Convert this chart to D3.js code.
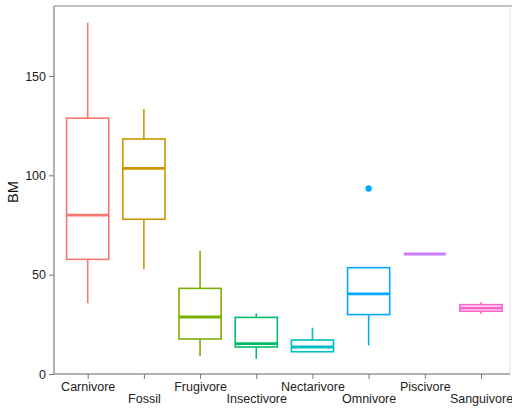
<!DOCTYPE html>
<html>
<head>
<meta charset="utf-8">
<script src="https://cdn.jsdelivr.net/npm/d3@7"></script>
<style>
  body { margin: 0; background: #fff; }
  text { font-family: "Liberation Sans", Arial, sans-serif; }
</style>
</head>
<body>
<script>
// diet categories and their box stats
const diets = ["Carnivore", "Fossil", "Frugivore", "Insectivore", "Nectarivore", "Omnivore", "Piscivore", "Sanguivore"];
const lowWhisker = [35.6, 52.8, 9.1, 7.7, 11.0, 14.4, 60.4, 30.3];
const q1 = [57.7, 77.9, 17.6, 13.6, 11.2, 29.9, 60.4, 31.6];
const medians = [80.0, 103.5, 28.7, 15.3, 13.6, 40.3, 60.4, 33.2];
const q3 = [128.8, 118.3, 43.1, 28.5, 17.1, 53.5, 60.4, 34.9];
const highWhisker = [176.8, 133.4, 61.9, 30.5, 23.3, 53.5, 60.4, 36.1];
const outliers = [{ diet: "Omnivore", value: 93.4 }];
const colors = ["#F8766D", "#CD9600", "#7CAE00", "#00BE67", "#00BFC4", "#00A9FF", "#C77CFF", "#FF61CC"];
const yTicks = [0, 50, 100, 150];

const W = 512, H = 408;
const panel = { left: 54, top: 6, right: 510, bottom: 374 };

const svg = d3.select("body").append("svg")
  .attr("width", W)
  .attr("height", H);

// scales
const x = d3.scalePoint().domain(diets).range([87.7, 481]);
const step = x.step();
const boxW = step * 0.75;
const y = d3.scaleLinear().domain([0, 150]).range([panel.bottom, 76]);

const data = diets.map((d, i) => ({
  diet: d, lo: lowWhisker[i], q1: q1[i], med: medians[i], q3: q3[i], hi: highWhisker[i], color: colors[i]
}));

// panel border: top grey, right very faint
svg.append("line")
  .attr("x1", panel.left).attr("x2", W)
  .attr("y1", panel.top).attr("y2", panel.top)
  .attr("stroke", "#aaa").attr("stroke-width", 1.5);
svg.append("line")
  .attr("x1", panel.right).attr("x2", panel.right)
  .attr("y1", panel.top).attr("y2", panel.bottom)
  .attr("stroke", "#e4e4e4").attr("stroke-width", 1);

// axes
const yAxis = d3.axisLeft(y).tickValues(yTicks).tickSize(5).tickPadding(3);
const gy = svg.append("g").attr("transform", `translate(${panel.left},0)`).call(yAxis);
gy.select(".domain").attr("stroke", "#999").attr("stroke-width", 1.5)
  .attr("d", `M0,${panel.top}V${panel.bottom}`);
gy.selectAll(".tick line").attr("stroke", "#777");
gy.selectAll(".tick text").attr("font-size", 12.5).attr("fill", "#222");

const xAxis = d3.axisBottom(x).tickSize(5).tickPadding(3);
const gx = svg.append("g").attr("transform", `translate(0,${panel.bottom})`).call(xAxis);
gx.select(".domain").attr("stroke", "#999").attr("stroke-width", 1.5)
  .attr("d", `M${panel.left},0H${panel.right}`);
gx.selectAll(".tick line").attr("stroke", "#777");
gx.selectAll(".tick text")
  .attr("font-size", 12.5).attr("fill", "#222")
  .attr("dy", (d, i) => i % 2 === 0 ? "0.75em" : "1.65em");

// y title
svg.append("text")
  .attr("transform", `translate(18,${(panel.top + panel.bottom) / 2 + 2}) rotate(-90)`)
  .attr("text-anchor", "middle")
  .attr("font-size", 14.5)
  .attr("fill", "#111")
  .text("BM");

// boxes
const g = svg.append("g");
const box = g.selectAll("g.box").data(data).join("g").attr("class", "box");

box.append("line")
  .attr("x1", d => x(d.diet)).attr("x2", d => x(d.diet))
  .attr("y1", d => y(d.hi)).attr("y2", d => y(d.q3))
  .attr("stroke", d => d.color).attr("stroke-width", 1.6);
box.append("line")
  .attr("x1", d => x(d.diet)).attr("x2", d => x(d.diet))
  .attr("y1", d => y(d.q1)).attr("y2", d => y(d.lo))
  .attr("stroke", d => d.color).attr("stroke-width", 1.6);
box.append("rect")
  .attr("x", d => x(d.diet) - boxW / 2)
  .attr("width", boxW)
  .attr("y", d => y(d.q3))
  .attr("height", d => y(d.q1) - y(d.q3))
  .attr("fill", "#fff")
  .attr("stroke", d => d.color).attr("stroke-width", 1.6);
box.append("line")
  .attr("x1", d => x(d.diet) - boxW / 2).attr("x2", d => x(d.diet) + boxW / 2)
  .attr("y1", d => y(d.med)).attr("y2", d => y(d.med))
  .attr("stroke", d => d.color).attr("stroke-width", 2.8);

// outliers
g.selectAll("circle").data(outliers).join("circle")
  .attr("cx", d => x(d.diet))
  .attr("cy", d => y(d.value))
  .attr("r", 3.2)
  .attr("fill", colors[diets.indexOf("Omnivore")]);
</script>
</body>
</html>
